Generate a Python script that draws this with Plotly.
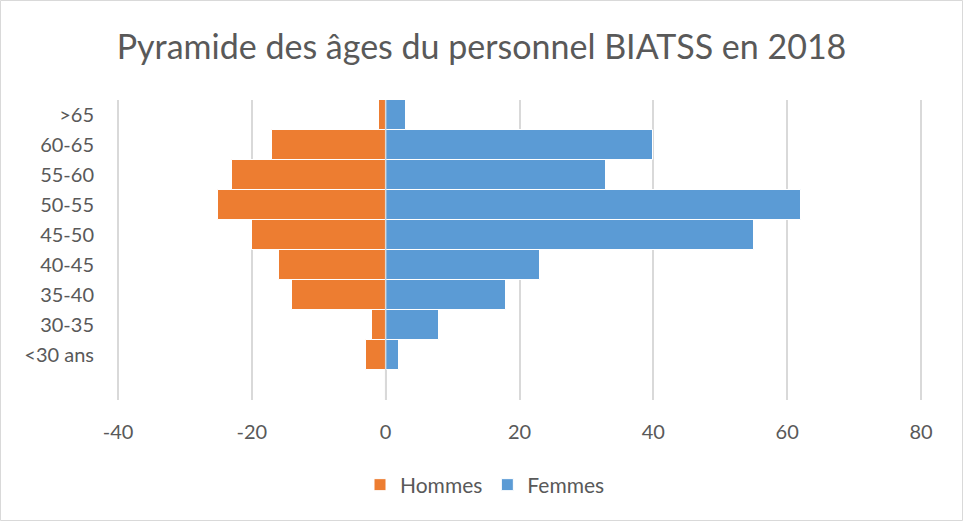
import plotly.graph_objects as go

categories = ["<30 ans", "30-35", "35-40", "40-45", "45-50", "50-55", "55-60", "60-65", ">65"]
hommes = [-3, -2, -14, -16, -20, -25, -23, -17, -1]
femmes = [2, 8, 18, 23, 55, 62, 33, 40, 3]
x_ticks = [-40, -20, 0, 20, 40, 60, 80]
x_tick_labels = [str(v) for v in x_ticks]

W, H = 963, 521
L, R, T, B = 116, 40, 100, 121
pw, ph = W - L - R, H - T - B

font = "Lato, 'Open Sans', sans-serif"
grey = "#595959"

fig = go.Figure()
fig.add_trace(go.Bar(y=categories, x=hommes, orientation="h", name="Hommes",
                     marker=dict(color="#ED7D31", line=dict(color="white", width=1))))
fig.add_trace(go.Bar(y=categories, x=femmes, orientation="h", name="Femmes",
                     marker=dict(color="#5B9BD5", line=dict(color="white", width=1))))

fig.update_layout(
    width=W, height=H,
    margin=dict(l=L, r=R, t=T, b=B, autoexpand=False),
    paper_bgcolor="white", plot_bgcolor="white",
    barmode="relative", bargap=0,
    title=dict(text="Pyramide des âges du personnel BIATSS en 2018",
               x=(W / 2 - L) / pw, xanchor="center", xref="paper", y=1 - 47 / H, yanchor="middle",
               font=dict(family=font, size=34, color=grey)),
    font=dict(family=font, size=20, color=grey),
    xaxis=dict(range=[-40.3, 80.3], tickvals=x_ticks, ticktext=x_tick_labels,
               showgrid=True, gridcolor="#D9D9D9",
               gridwidth=1.5, zeroline=False, showline=False, ticks="",
               tickfont=dict(size=20, color=grey), ticklabelstandoff=18, automargin=False),
    yaxis=dict(type="category", categoryorder="array", categoryarray=categories,
               range=[-1.5, 8.5], showgrid=False, zeroline=False, showline=False,
               ticks="", tickfont=dict(size=20, color=grey), ticklabelstandoff=21,
               automargin=False),
    legend=dict(orientation="h", x=(485 - L) / pw, xanchor="center", y=-(485 - T - ph) / ph,
                yanchor="middle", font=dict(size=21, color=grey),
                itemwidth=30, traceorder="normal"),
    showlegend=True,
)

fig.add_shape(type="line", xref="x", yref="paper", x0=0, x1=0, y0=0, y1=1,
              line=dict(color="#D9D9D9", width=1.5), layer="above")

fig.add_shape(type="rect", xref="paper", yref="paper",
              x0=(0.5 - L) / pw, x1=(W - 0.5 - L) / pw,
              y0=-(H - 0.5 - T - ph) / ph, y1=1 + (T - 0.5) / ph,
              line=dict(color="#D9D9D9", width=1), fillcolor="rgba(0,0,0,0)", layer="below")

fig.write_html("out.html", config={"displayModeBar": False},
               post_script="document.body.style.margin='0';")
